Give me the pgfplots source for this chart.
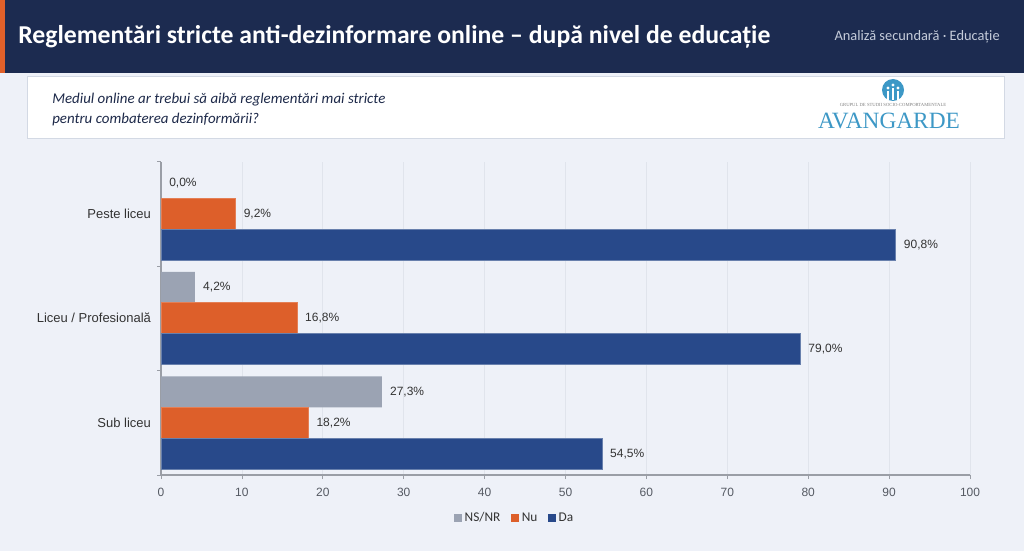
\documentclass[border=0pt]{standalone}
\usepackage{pgfplots}
\pgfplotsset{compat=1.18}
\usepackage{fontspec}
\setmainfont{Liberation Sans}
\newfontfamily\carlito{Carlito}
\newfontfamily\logoserif{Liberation Serif}

\definecolor{pagebg}{HTML}{EEF1F8}
\definecolor{navy}{HTML}{1C2B50}
\definecolor{accent}{HTML}{E0602A}
\definecolor{subgray}{HTML}{C5CCDA}
\definecolor{boxline}{HTML}{D3D9E4}
\definecolor{qtext}{HTML}{1E2A4A}
\definecolor{logoblue}{HTML}{3D98C6}
\definecolor{axisgray}{HTML}{9A9EA6}
\definecolor{gridc}{HTML}{E0E4EC}
\definecolor{ticktext}{HTML}{555A63}
\definecolor{labeltext}{HTML}{333333}
\definecolor{cda}{HTML}{28498A}
\definecolor{cnu}{HTML}{DD5F2A}
\definecolor{cns}{HTML}{9BA3B3}

\begin{document}
\begin{tikzpicture}
% page decoration, 1 unit = 1 px
\begin{scope}[x=0.75pt,y=0.75pt]
  \fill[pagebg] (0,0) rectangle (1024,551);
  \useasboundingbox (0,0) rectangle (1024,551);
  % header band
  \fill[navy] (0,478) rectangle (1024,551);
  \fill[accent] (0,478) rectangle (5,551);
  \node[anchor=west, text=white, inner sep=0pt,
        font=\carlito\bfseries\fontsize{19.3}{23}\selectfont]
    at (18,514) {Reglementări stricte anti-dezinformare online – după nivel de educație};
  \node[anchor=east, text=subgray, inner sep=0pt,
        font=\carlito\fontsize{10.8}{13}\selectfont]
    at (1000,514) {Analiză secundară · Educație};
  % question box
  \draw[boxline, fill=white, line width=0.75pt] (27,413) rectangle (1004,474);
  \node[anchor=west, text=qtext, inner sep=0pt, align=left,
        font=\carlito\itshape\fontsize{11.2}{15}\selectfont]
    at (52,441) {Mediul online ar trebui să aibă reglementări mai stricte\\pentru combaterea dezinformării?};
  % logo
  \fill[logoblue] (893,461) circle (11);
  \fill[white] (888,463) circle (1.7);
  \fill[white] (893,466) circle (1.7);
  \fill[white] (898,463) circle (1.7);
  \draw[white, line width=1.3pt] (888,451) -- (888,460);
  \draw[white, line width=1.3pt] (893,451) -- (893,463);
  \draw[white, line width=1.3pt] (898,451) -- (898,460);
  \node[text=gray, inner sep=0pt, font=\logoserif\fontsize{3.5}{4}\selectfont]
    at (893,446) {GRUPUL DE STUDII SOCIO-COMPORTAMENTALE};
  \node[text=logoblue, inner sep=0pt, font=\logoserif\fontsize{17.5}{20}\selectfont]
    at (889,430) {AVANGARDE};
\end{scope}

\begin{axis}[
  at={(120.75pt,57pt)}, anchor=south west,
  scale only axis, width=606.75pt, height=235.125pt,
  xbar, bar width=23.25pt,
  xmin=0, xmax=100, ymin=-0.5, ymax=2.5,
  axis x line*=bottom, axis y line*=left,
  axis line style={draw=axisgray, line width=0.8pt},
  tick style={draw=axisgray, line width=0.6pt},
  tick align=outside, major tick length=3pt,
  xtick={0,10,...,100},
  xmajorgrids, grid style={draw=gridc, line width=0.6pt},
  ytick={-0.5,0.5,1.5,2.5}, yticklabels={},
  extra y ticks={0,1,2},
  extra y tick labels={Sub liceu, Liceu / Profesională, Peste liceu},
  extra y tick style={major tick length=0pt},
  x tick label style={font=\fontsize{9}{11}\selectfont, text=ticktext, yshift=-3pt},
  y tick label style={font=\fontsize{9.75}{11}\selectfont, text=labeltext, xshift=-4pt},
  /pgf/number format/assume math mode=true,
  nodes near coords={\pgfmathprintnumber[fixed,fixed zerofill,precision=1,use comma]{\pgfplotspointmeta}\%},
  nodes near coords style={anchor=west, inner sep=0pt, xshift=6pt,
    font=\fontsize{9}{11}\selectfont, text=labeltext},
  legend style={at={(axis description cs:0.4376,-0.137)}, anchor=center,
    draw=none, fill=none, legend columns=3,
    font=\carlito\fontsize{10}{12}\selectfont, text=labeltext,
    /tikz/every even column/.append style={column sep=6pt}},
  legend image code/.code={\fill[#1,draw=none] (0pt,-3pt) rectangle (6pt,3pt);},
]
\addplot[fill=cns, draw=none, bar shift=23.25pt]
  coordinates {(27.3,0) (4.2,1) (0.0,2)};
\addlegendentry{NS/NR}
\addplot[fill=cnu, draw=cnu!80!white, line width=0.5pt, bar shift=0pt]
  coordinates {(18.2,0) (16.8,1) (9.2,2)};
\addlegendentry{Nu}
\addplot[fill=cda, draw=cda!70!white, line width=0.5pt, bar shift=-23.25pt]
  coordinates {(54.5,0) (79.0,1) (90.8,2)};
\addlegendentry{Da}
\end{axis}
\end{tikzpicture}
\end{document}
